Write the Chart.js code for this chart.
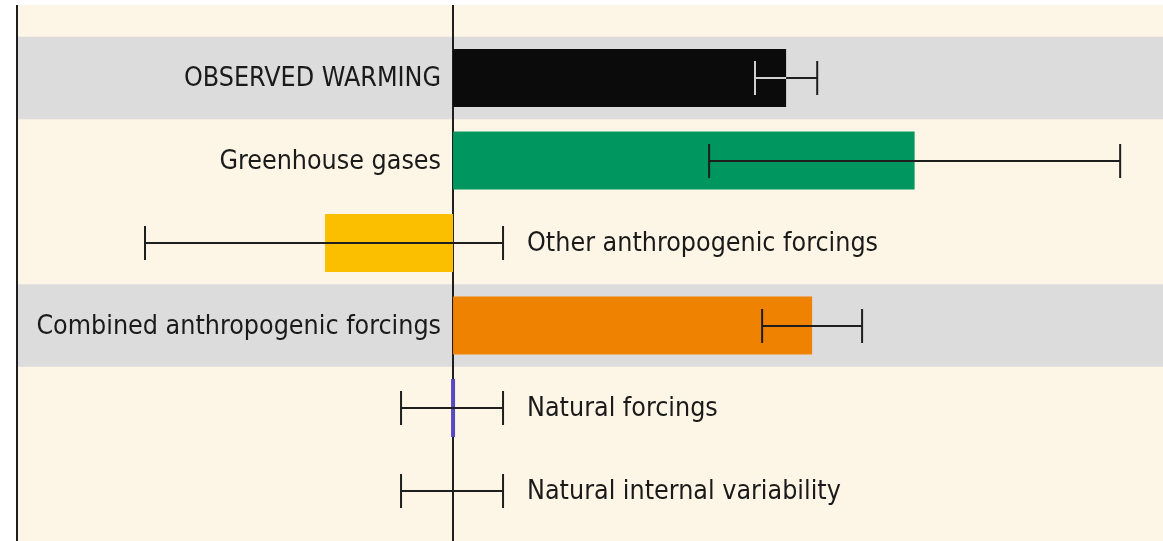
<!DOCTYPE html>
<html>
<head>
<meta charset="utf-8">
<script src="https://cdn.jsdelivr.net/npm/chart.js@4.4.1/dist/chart.umd.min.js"></script>
<style>
html,body{margin:0;padding:0;background:#fff;}
#wrap{width:1163px;height:541px;position:relative;}
</style>
</head>
<body>
<div id="wrap"><canvas id="c" width="1163" height="541"></canvas></div>
<script>
// Attributed warming, °C
const categories = ["OBSERVED WARMING","Greenhouse gases","Other anthropogenic forcings","Combined anthropogenic forcings","Natural forcings","Natural internal variability"];
const values = [0.653, 0.905, -0.251, 0.704, 0.0, null];
const errLow = [0.592, 0.502, -0.604, 0.606, -0.102, -0.102];
const errHigh = [0.714, 1.308, 0.098, 0.802, 0.098, 0.098];
const labelSide = ["left","left","right","left","right","right"];
const barColors = ["#0b0b0b","#00965f","#fbbf00","#ef8200","#5a48c0","#000000"];
const bandRows = [0, 3];

const bgPlugin = {
  id: 'bg',
  beforeDraw(chart) {
    const ctx = chart.ctx, y = chart.scales.y;
    const L = chart.chartArea.left;
    ctx.save();
    ctx.fillStyle = '#ffffff';
    ctx.fillRect(0, 0, chart.width, chart.height);
    ctx.fillStyle = '#fdf5e5';
    ctx.fillRect(L, 5, chart.width - L, chart.height - 5);
    const half = (y.getPixelForValue(1) - y.getPixelForValue(0)) / 2;
    ctx.fillStyle = '#dcdcdc';
    bandRows.forEach(i => {
      const c = y.getPixelForValue(i);
      ctx.fillRect(L, c - half, chart.width - L, 2 * half);
    });
    ctx.restore();
  },
  beforeDatasetsDraw(chart) {
    const ctx = chart.ctx, x = chart.scales.x;
    ctx.save();
    ctx.strokeStyle = '#1e1e1e';
    ctx.lineWidth = 2;
    const x0 = Math.round(x.getPixelForValue(0));
    ctx.beginPath();
    ctx.moveTo(chart.chartArea.left, 5); ctx.lineTo(chart.chartArea.left, chart.height);
    ctx.moveTo(x0, 5); ctx.lineTo(x0, chart.height);
    ctx.stroke();
    ctx.restore();
  },
  afterDatasetsDraw(chart) {
    const ctx = chart.ctx, x = chart.scales.x, y = chart.scales.y;
    ctx.save();
    ctx.lineWidth = 2;
    categories.forEach((cat, i) => {
      const cy = Math.round(y.getPixelForValue(i));
      const xl = x.getPixelForValue(errLow[i]);
      const xh = x.getPixelForValue(errHigh[i]);
      const capH = 17;
      ctx.strokeStyle = '#1e1e1e';
      ctx.beginPath();
      ctx.moveTo(xl, cy); ctx.lineTo(xh, cy);
      ctx.moveTo(xl, cy - capH); ctx.lineTo(xl, cy + capH);
      ctx.moveTo(xh, cy - capH); ctx.lineTo(xh, cy + capH);
      ctx.stroke();
      if (i === 0 && values[i] !== null) {
        const xb = x.getPixelForValue(values[i]);
        ctx.strokeStyle = '#d0d0d0';
        ctx.beginPath();
        ctx.moveTo(xl, cy); ctx.lineTo(Math.min(xb, xh), cy);
        ctx.moveTo(xl, cy - capH); ctx.lineTo(xl, cy + capH);
        ctx.stroke();
      }
      ctx.fillStyle = '#1a1a1a';
      ctx.font = '26.6px "Liberation Sans Narrow", "DejaVu Sans Condensed", sans-serif';
      ctx.textBaseline = 'middle';
      if (labelSide[i] === 'left') {
        ctx.textAlign = 'right';
        ctx.fillText(cat, x.getPixelForValue(0) - 12, cy + 1);
      } else {
        ctx.textAlign = 'left';
        ctx.fillText(cat, xh + 24, cy + 1);
      }
    });
    ctx.restore();
  }
};

new Chart(document.getElementById('c'), {
  type: 'bar',
  data: {
    labels: categories,
    datasets: [{
      data: values,
      backgroundColor: barColors,
      borderWidth: 0,
      barPercentage: 0.703,
      categoryPercentage: 1.0,
      minBarLength: 4
    }]
  },
  options: {
    indexAxis: 'y',
    responsive: false,
    animation: false,
    events: [],
    layout: { padding: { left: 17, right: 0, top: 36.75, bottom: 9.25 } },
    plugins: { legend: { display: false }, tooltip: { enabled: false } },
    scales: {
      x: { type: 'linear', min: -0.855, max: 1.392, display: false },
      y: { type: 'category', display: false, offset: true }
    }
  },
  plugins: [bgPlugin]
});
</script>
</body>
</html>
